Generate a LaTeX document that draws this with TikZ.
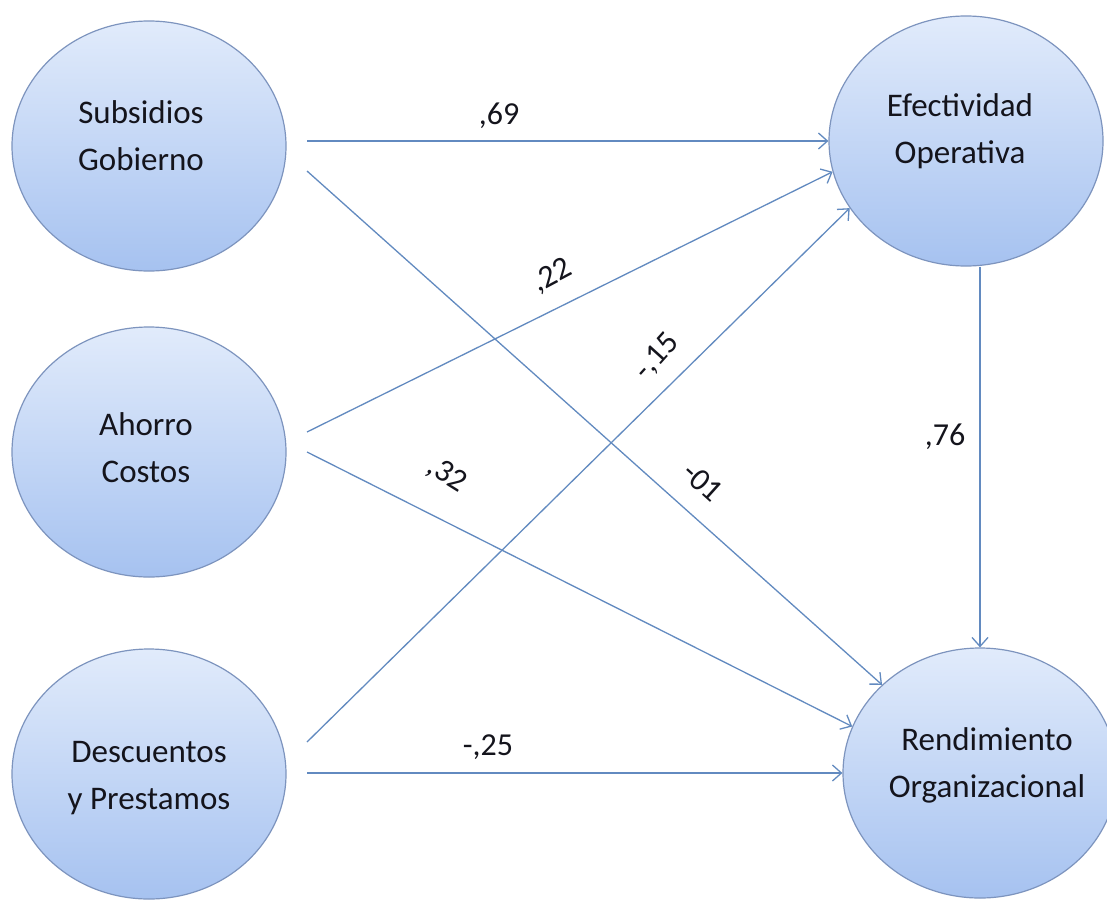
\documentclass[tikz,border=0pt]{standalone}
\usepackage{fontspec}
\setmainfont{Carlito}
\usetikzlibrary{shapes.geometric,arrows.meta}
\definecolor{linec}{RGB}{98,138,192}
\definecolor{ftop}{RGB}{225,235,251}
\definecolor{fbot}{RGB}{166,194,240}
\definecolor{edgec}{RGB}{125,148,190}
\definecolor{txt}{RGB}{20,20,28}
\begin{document}
\begin{tikzpicture}[x=1pt,y=-1pt,
  var/.style={ellipse, draw=edgec, line width=1.2pt, top color=ftop, bottom color=fbot,
    minimum width=274pt, minimum height=250pt, inner sep=0pt},
  vtext/.style={align=center, inner sep=0pt, font=\fontsize{33}{47}\selectfont, text=txt},
  conn/.style={draw=linec, line width=1.3pt, -{Straight Barb[length=9pt,width=16pt]}},
  coef/.style={font=\fontsize{32}{37}\selectfont, inner sep=0pt, text=txt}
]
\useasboundingbox (0,0) rectangle (1107,899);
\fill[white] (0,0) rectangle (1107,899);
\node[var] (sub) at (149,146) {};
\node[var] (aho) at (149,452) {};
\node[var] (des) at (149,774) {};
\node[var] (ef) at (966,141) {};
\node[var] (ren) at (980,773) {};

\node[vtext] (subT) at ([shift={(-8,-10)}]sub.center) {Subsidios\\Gobierno};
\node[vtext] (ahoT) at ([shift={(-3,-4)}]aho.center) {Ahorro\\Costos};
\node[vtext] (desT) at ([shift={(0,4)}]des.center) {Descuentos\\y Prestamos};
\node[vtext] (efT) at ([shift={(-6,-10)}]ef.center) {Efectividad\\Operativa};
\node[vtext] (renT) at ([shift={(7,-8)}]ren.center) {Rendimiento\\Organizacional};

\coordinate (s1) at (307,141);
\coordinate (s2) at (307,171);
\coordinate (s3) at (307,432);
\coordinate (s4) at (307,452);
\coordinate (s5) at (307,742);
\coordinate (s6) at (307,773);

\draw[conn] (s1) -- (ef.180);
\draw[conn] (s2) -- (ren.138);
\draw[conn] (s3) -- (ef.193);
\draw[conn] (s4) -- (ren.160);
\draw[conn] (s5) -- (ef.210);
\draw[conn] (s6) -- (ren.180);
\draw[conn] (ren.north |- ef.south) -- (ren.north);

\node[coef] (l69) at (499,116) {,69};
\node[coef,rotate=28] (l22) at (552,276) {,22};
\node[coef,rotate=48] (l15) at (657,357) {-,15};
\node[coef,rotate=-32] (l32) at (447,475) {,32};
\node[coef,rotate=-42] (l01) at (703,482) {-01};
\node[coef] (l25) at (488,747) {-,25};
\node[coef] (l76) at (945,437) {,76};
\end{tikzpicture}
\end{document}
